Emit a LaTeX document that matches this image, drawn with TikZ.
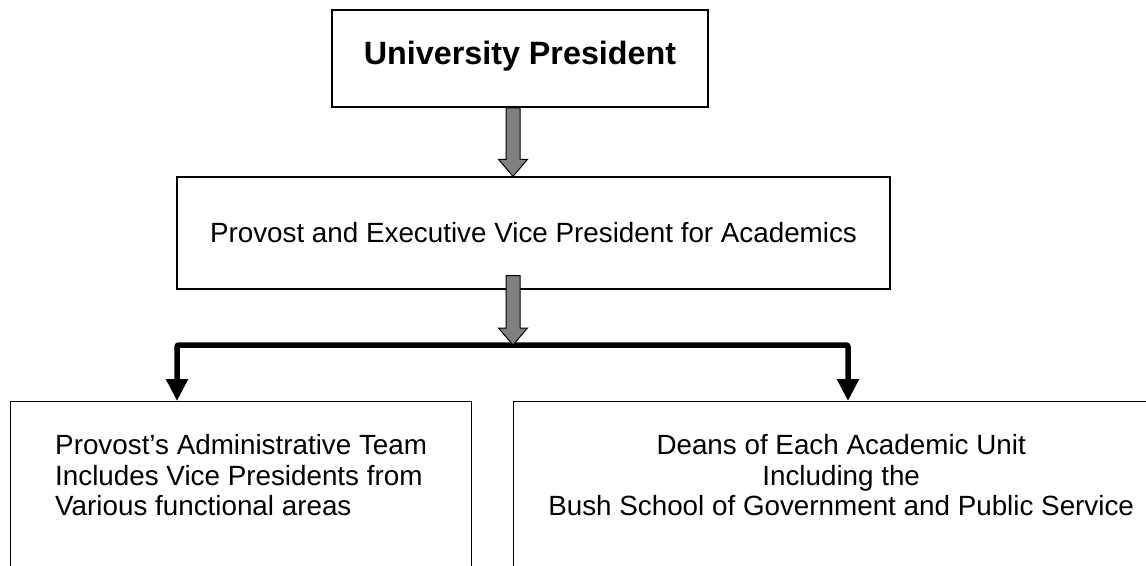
\documentclass[tikz,border=0pt]{standalone}
\usepackage{fontspec}
\setmainfont{Liberation Sans}
\usetikzlibrary{arrows.meta,calc}

\definecolor{arrowgray}{RGB}{128,128,128}

% gray block arrow: shaft top, tip
\newcommand{\grayarrow}[2]{%
  \filldraw[fill=arrowgray,line width=1pt,line join=miter]
    ($(#1)+(-7,0)$) -- ($(#1)+(7,0)$) -- ($(#2)+(7,-17)$) -- ($(#2)+(14.5,-17)$)
    -- (#2) -- ($(#2)+(-14.5,-17)$) -- ($(#2)+(-7,-17)$) -- cycle;}

\tikzset{
  box/.style={draw,rectangle,line width=1.3pt,inner sep=0pt},
  bigtext/.style={font=\fontsize{27.8}{30.5}\selectfont},
  bus/.style={line width=5.5pt,rounded corners=2pt,
    arrows={Triangle[length=22pt,width=21pt]-Triangle[length=22pt,width=21pt]}}
}

\begin{document}
\begin{tikzpicture}[x=1pt,y=-1pt]
\clip (0,0) rectangle (1146,565);
% boxes
\node[box,line width=1.6pt,minimum width=376pt,minimum height=97pt,
  font=\bfseries\fontsize{32.3}{36}\selectfont,text height=23.5pt,text depth=12.5pt]
  (pres) at (520,58.5) {University President};
\node[box,bigtext,minimum width=713pt,minimum height=112pt]
  (provost) at (533.5,233) {Provost and Executive Vice President for Academics};
\node[box,bigtext,align=left,anchor=north west,minimum width=461pt,
  text height=81pt,text depth=150pt,inner ysep=33pt]
  (team) at (10,401) {Provost’s Administrative Team\\Includes Vice Presidents from\\Various functional areas};
\node[box,bigtext,align=center,anchor=north west,minimum width=655pt,
  text height=81pt,text depth=150pt,inner ysep=33pt]
  (deans) at (513,401) {Deans of Each Academic Unit\\Including the\\Bush School of Government and Public Service};
% connectors
\coordinate (axis) at (513,0);
\coordinate (lturn) at (177,345);
\coordinate (rturn) at (848,345);
\coordinate (a2top) at ($(provost.south -| axis)+(0,-14)$);
\grayarrow{pres.south -| axis}{provost.north -| axis}
\draw[bus] (lturn |- team.north) -- (lturn) -- (rturn) -- (rturn |- deans.north);
\grayarrow{a2top}{axis |- lturn}
\end{tikzpicture}
\end{document}
